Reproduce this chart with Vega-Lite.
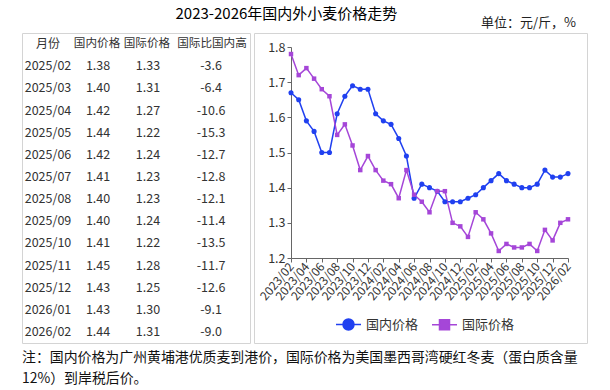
{
  "$schema": "https://vega.github.io/schema/vega-lite/v6.json",
  "background": "white",
  "padding": {"left": 21, "top": 6, "right": 0, "bottom": 0},
  "config": {
    "font": "Noto Sans CJK SC",
    "view": {"stroke": "#d4d4d4", "strokeWidth": 1},
    "title": {"font": "Noto Sans CJK SC", "fontWeight": "normal", "color": "#111"},
    "axis": {"labelFont": "Noto Sans CJK SC"},
    "legend": {"labelFont": "Noto Sans CJK SC"}
  },
  "datasets": {
    "wheat": [
      {"month": "2023/02", "dom": 1.67, "intl": 1.78},
      {"month": "2023/03", "dom": 1.65, "intl": 1.72},
      {"month": "2023/04", "dom": 1.59, "intl": 1.74},
      {"month": "2023/05", "dom": 1.56, "intl": 1.71},
      {"month": "2023/06", "dom": 1.50, "intl": 1.68},
      {"month": "2023/07", "dom": 1.50, "intl": 1.66},
      {"month": "2023/08", "dom": 1.61, "intl": 1.55},
      {"month": "2023/09", "dom": 1.66, "intl": 1.58},
      {"month": "2023/10", "dom": 1.69, "intl": 1.52},
      {"month": "2023/11", "dom": 1.68, "intl": 1.45},
      {"month": "2023/12", "dom": 1.68, "intl": 1.49},
      {"month": "2024/01", "dom": 1.61, "intl": 1.45},
      {"month": "2024/02", "dom": 1.59, "intl": 1.42},
      {"month": "2024/03", "dom": 1.58, "intl": 1.41},
      {"month": "2024/04", "dom": 1.54, "intl": 1.37},
      {"month": "2024/05", "dom": 1.49, "intl": 1.45},
      {"month": "2024/06", "dom": 1.37, "intl": 1.38},
      {"month": "2024/07", "dom": 1.41, "intl": 1.36},
      {"month": "2024/08", "dom": 1.40, "intl": 1.33},
      {"month": "2024/09", "dom": 1.39, "intl": 1.39},
      {"month": "2024/10", "dom": 1.36, "intl": 1.39},
      {"month": "2024/11", "dom": 1.36, "intl": 1.30},
      {"month": "2024/12", "dom": 1.36, "intl": 1.29},
      {"month": "2025/01", "dom": 1.37, "intl": 1.26},
      {"month": "2025/02", "dom": 1.38, "intl": 1.33, "diff": "-3.6"},
      {"month": "2025/03", "dom": 1.40, "intl": 1.31, "diff": "-6.4"},
      {"month": "2025/04", "dom": 1.42, "intl": 1.27, "diff": "-10.6"},
      {"month": "2025/05", "dom": 1.44, "intl": 1.22, "diff": "-15.3"},
      {"month": "2025/06", "dom": 1.42, "intl": 1.24, "diff": "-12.7"},
      {"month": "2025/07", "dom": 1.41, "intl": 1.23, "diff": "-12.8"},
      {"month": "2025/08", "dom": 1.40, "intl": 1.23, "diff": "-12.1"},
      {"month": "2025/09", "dom": 1.40, "intl": 1.24, "diff": "-11.4"},
      {"month": "2025/10", "dom": 1.41, "intl": 1.22, "diff": "-13.5"},
      {"month": "2025/11", "dom": 1.45, "intl": 1.28, "diff": "-11.7"},
      {"month": "2025/12", "dom": 1.43, "intl": 1.25, "diff": "-12.6"},
      {"month": "2026/01", "dom": 1.43, "intl": 1.30, "diff": "-9.1"},
      {"month": "2026/02", "dom": 1.44, "intl": 1.31, "diff": "-9.0"}
    ]
  },
  "title": {"text": "2023-2026年国内外小麦价格走势", "anchor": "start", "dx": 154, "fontSize": 15, "offset": -5, "color": "#000"},
  "spacing": 4,
  "bounds": "flush",
  "hconcat": [
    {
      "width": 228,
      "height": 310,
      "title": {
        "text": ["注：国内价格为广州黄埔港优质麦到港价，国际价格为美国墨西哥湾硬红冬麦（蛋白质含量", "12%）到岸税后价。"],
        "orient": "bottom", "anchor": "start", "fontSize": 13.9, "lineHeight": 21, "offset": 8, "color": "#111", "frame": "group"
      },
      "data": {"name": "wheat"},
      "layer": [
        {
          "transform": [{"filter": "isValid(datum.diff)"}],
          "mark": {"type": "text", "fontSize": 12.5, "color": "#333"},
          "encoding": {
            "x": {"datum": "月份", "type": "ordinal", "scale": {"type": "point", "domain": ["月份", "国内价格", "国际价格", "国际比国内高"], "range": [26, 189], "padding": 0}, "axis": null},
            "y": {"field": "month", "type": "ordinal", "scale": {"type": "point", "domain": ["月份", "2025/02", "2025/03", "2025/04", "2025/05", "2025/06", "2025/07", "2025/08", "2025/09", "2025/10", "2025/11", "2025/12", "2026/01", "2026/02"], "padding": 0.5}, "axis": null},
            "text": {"field": "month", "type": "nominal"}
          }
        },
        {
          "transform": [{"filter": "isValid(datum.diff)"}],
          "mark": {"type": "text", "fontSize": 12.5, "color": "#333", "dx": -4.3},
          "encoding": {
            "x": {"datum": "国内价格", "type": "ordinal"},
            "y": {"field": "month", "type": "ordinal"},
            "text": {"field": "dom", "type": "quantitative", "format": ".2f"}
          }
        },
        {
          "transform": [{"filter": "isValid(datum.diff)"}],
          "mark": {"type": "text", "fontSize": 12.5, "color": "#333", "dx": -8.7},
          "encoding": {
            "x": {"datum": "国际价格", "type": "ordinal"},
            "y": {"field": "month", "type": "ordinal"},
            "text": {"field": "intl", "type": "quantitative", "format": ".2f"}
          }
        },
        {
          "transform": [{"filter": "isValid(datum.diff)"}],
          "mark": {"type": "text", "fontSize": 12.5, "color": "#333"},
          "encoding": {
            "x": {"datum": "国际比国内高", "type": "ordinal"},
            "y": {"field": "month", "type": "ordinal"},
            "text": {"field": "diff", "type": "nominal"}
          }
        },
        {
          "data": {"values": [{}]},
          "mark": {"type": "text", "fontSize": 12, "color": "#333", "text": "月份"},
          "encoding": {"x": {"datum": "月份", "type": "ordinal"}, "y": {"datum": "月份", "type": "ordinal"}}
        },
        {
          "data": {"values": [{}]},
          "mark": {"type": "text", "fontSize": 11.6, "color": "#333", "text": "国内价格", "dx": -5.3},
          "encoding": {"x": {"datum": "国内价格", "type": "ordinal"}, "y": {"datum": "月份", "type": "ordinal"}}
        },
        {
          "data": {"values": [{}]},
          "mark": {"type": "text", "fontSize": 11.6, "color": "#333", "text": "国际价格", "dx": -9.7},
          "encoding": {"x": {"datum": "国际价格", "type": "ordinal"}, "y": {"datum": "月份", "type": "ordinal"}}
        },
        {
          "data": {"values": [{}]},
          "mark": {"type": "text", "fontSize": 11.6, "color": "#333", "text": "国际比国内高", "dx": 1},
          "encoding": {"x": {"datum": "国际比国内高", "type": "ordinal"}, "y": {"datum": "月份", "type": "ordinal"}}
        }
      ]
    },
    {
      "width": 333,
      "height": 310,
      "title": {"text": "单位：元/斤，%", "anchor": "end", "fontSize": 13, "offset": 3, "dx": -11, "color": "#222"},
      "data": {"name": "wheat"},
      "encoding": {
        "x": {
          "field": "month", "type": "ordinal",
          "scale": {"type": "point", "range": [37, 314], "padding": 0},
          "axis": {
            "title": null,
            "values": ["2023/02", "2023/04", "2023/06", "2023/08", "2023/10", "2023/12", "2024/02", "2024/04", "2024/06", "2024/08", "2024/10", "2024/12", "2025/02", "2025/04", "2025/06", "2025/08", "2025/10", "2025/12", "2026/02"],
            "labelAngle": -50, "labelFontSize": 12, "labelColor": "#333",
            "domainColor": "#666", "tickColor": "#666", "tickSize": 4,
            "offset": -85, "labelPadding": 2, "grid": false
          }
        }
      },
      "layer": [
        {
          "mark": {"type": "line", "strokeWidth": 1.5},
          "encoding": {
            "y": {
              "field": "dom", "type": "quantitative",
              "scale": {"domain": [1.2, 1.8], "range": [225, 14], "nice": false, "zero": false},
              "axis": {"title": null, "values": [1.2, 1.3, 1.4, 1.5, 1.6, 1.7, 1.8], "format": ".1f", "offset": -37, "labelFontSize": 12.5, "labelColor": "#333", "domainColor": "#666", "tickColor": "#666", "tickSize": 4, "grid": false}
            },
            "color": {
              "datum": "国内价格", "type": "nominal",
              "scale": {"domain": ["国内价格", "国际价格"], "range": ["#2040f0", "#a546d8"]},
              "legend": {
                "title": null, "orient": "none", "legendX": 313, "legendY": 278, "direction": "horizontal",
                "symbolSize": 625, "labelFontSize": 13, "labelColor": "#333", "labelOffset": 4, "columnPadding": 10, "padding": 0,
                "encode": {
                  "symbols": {
                    "update": {
                      "shape": {"signal": "datum.value === '国内价格' ? 'M-1,0H1M0.44,0A0.44,0.44,0,1,1,-0.44,0A0.44,0.44,0,1,1,0.44,0Z' : 'M-1,0H1M-0.4,-0.4H0.4V0.4H-0.4Z'"},
                      "fill": {"signal": "datum.value === '国内价格' ? '#2040f0' : '#a546d8'"},
                      "stroke": {"signal": "datum.value === '国内价格' ? '#2040f0' : '#a546d8'"},
                      "strokeWidth": {"value": 1.5},
                      "opacity": {"value": 1},
                      "fillOpacity": {"value": 1}
                    }
                  }
                }
              }
            }
          }
        },
        {
          "mark": {"type": "line", "strokeWidth": 1.5},
          "encoding": {
            "y": {"field": "intl", "type": "quantitative"},
            "color": {"datum": "国际价格", "type": "nominal"}
          }
        },
        {
          "mark": {"type": "point", "shape": "circle", "filled": true, "size": 26, "opacity": 1},
          "encoding": {
            "y": {"field": "dom", "type": "quantitative"},
            "color": {"datum": "国内价格", "type": "nominal"}
          }
        },
        {
          "mark": {"type": "point", "shape": "square", "filled": true, "size": 20, "opacity": 1},
          "encoding": {
            "y": {"field": "intl", "type": "quantitative"},
            "color": {"datum": "国际价格", "type": "nominal"}
          }
        }
      ]
    }
  ]
}
